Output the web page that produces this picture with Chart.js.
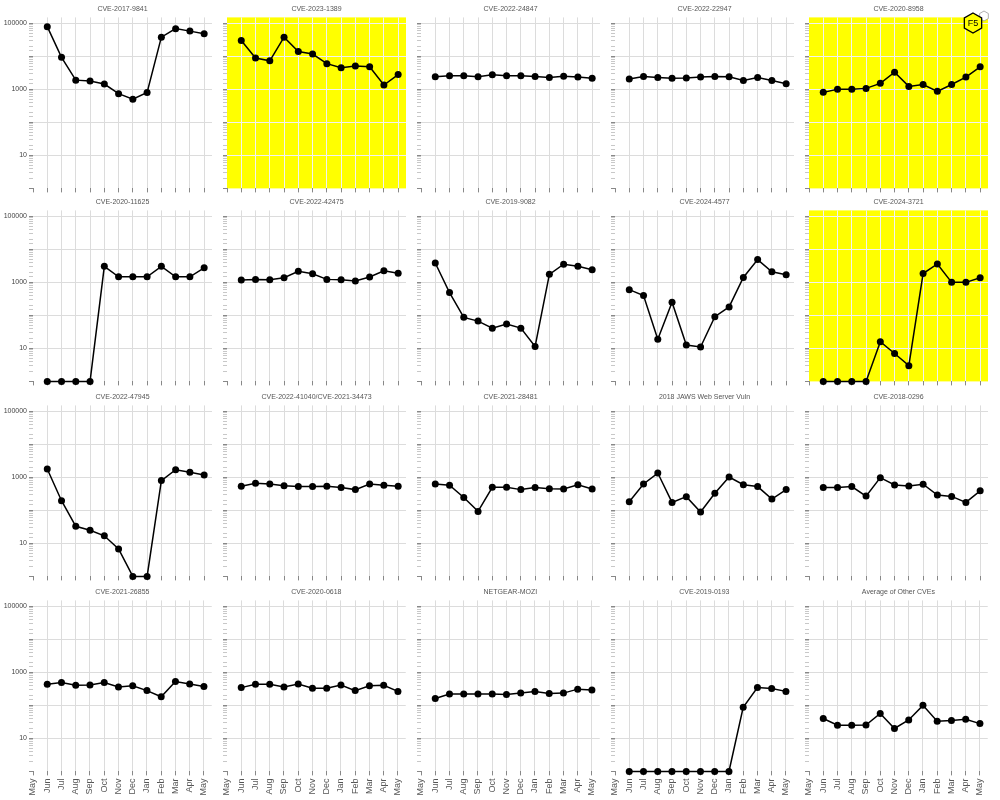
<!DOCTYPE html>
<html>
<head>
<meta charset="utf-8">
<script src="https://cdn.jsdelivr.net/npm/chart.js@4"></script>
<style>
  html, body { margin: 0; padding: 0; background: #fff; }
  #wrap { position: relative; width: 1000px; height: 800px; overflow: hidden; }
  #wrap canvas { position: absolute; }
</style>
</head>
<body>
<div id="wrap"></div>
<script>
// month axis, first May is the empty start of the axis
const months = ['May', 'Jun', 'Jul', 'Aug', 'Sep', 'Oct', 'Nov', 'Dec', 'Jan', 'Feb', 'Mar', 'Apr', 'May']
const yLabels = [10, 1000, 100000]

// monthly values Jun..May, one array per panel (0 shown as 1 on the log axis)
const cve_2017_9841 = [79000, 9300, 1900, 1800, 1450, 740, 500, 800, 38000, 69000, 58000, 48000]
const cve_2023_1389 = [30000, 8900, 7300, 38000, 14000, 11700, 6000, 4500, 5100, 4800, 1350, 2800]
const cve_2022_24847 = [2400, 2600, 2600, 2400, 2750, 2600, 2600, 2450, 2300, 2500, 2350, 2150]
const cve_2022_22947 = [2050, 2450, 2300, 2150, 2200, 2350, 2450, 2400, 1850, 2300, 1850, 1480]
const cve_2020_8958 = [810, 1000, 1000, 1070, 1520, 3300, 1230, 1400, 870, 1400, 2350, 4800]
const cve_2020_11625 = [1, 1, 1, 1, 3050, 1470, 1470, 1470, 3050, 1470, 1470, 2750]
const cve_2022_42475 = [1170, 1230, 1200, 1380, 2150, 1820, 1230, 1200, 1100, 1450, 2250, 1900]
const cve_2019_9082 = [3850, 490, 87, 67, 41, 55, 41, 11.5, 1750, 3550, 3050, 2400]
const cve_2024_4577 = [600, 400, 19, 250, 12.6, 11, 91, 180, 1400, 4900, 2100, 1700]
const cve_2024_3721 = [1, 1, 1, 1, 16, 7, 3, 1850, 3600, 1000, 1000, 1380]
const cve_2022_47945 = [1790, 196, 33, 25, 17, 6.8, 1, 1, 800, 1700, 1420, 1180]
const cve_2022_41040 = [540, 660, 630, 560, 525, 525, 540, 490, 425, 630, 575, 540]
const cve_2021_28481 = [630, 575, 245, 93, 500, 500, 425, 490, 455, 445, 600, 445]
const jaws_2018 = [182, 630, 1350, 174, 260, 89, 330, 1020, 600, 525, 220, 425]
const cve_2018_0296 = [490, 490, 525, 270, 980, 590, 550, 620, 290, 265, 174, 390]
const cve_2021_26855 = [435, 490, 405, 415, 490, 360, 390, 280, 182, 525, 445, 370]
const cve_2020_0618 = [345, 435, 435, 360, 445, 330, 330, 415, 280, 390, 405, 265]
const netgear_mozi = [162, 220, 220, 220, 220, 215, 235, 265, 230, 235, 310, 290]
const cve_2019_0193 = [1, 1, 1, 1, 1, 1, 1, 1, 87, 345, 325, 265]
const avg_other = [40, 25, 25, 25.5, 57, 20, 36, 100, 33, 35, 38, 28]

const titles = [
    'CVE-2017-9841', 'CVE-2023-1389', 'CVE-2022-24847', 'CVE-2022-22947', 'CVE-2020-8958',
    'CVE-2020-11625', 'CVE-2022-42475', 'CVE-2019-9082', 'CVE-2024-4577', 'CVE-2024-3721',
    'CVE-2022-47945', 'CVE-2022-41040/CVE-2021-34473', 'CVE-2021-28481', '2018 JAWS Web Server Vuln', 'CVE-2018-0296',
    'CVE-2021-26855', 'CVE-2020-0618', 'NETGEAR-MOZI', 'CVE-2019-0193', 'Average of Other CVEs'
]
const series = [
    cve_2017_9841, cve_2023_1389, cve_2022_24847, cve_2022_22947, cve_2020_8958,
    cve_2020_11625, cve_2022_42475, cve_2019_9082, cve_2024_4577, cve_2024_3721,
    cve_2022_47945, cve_2022_41040, cve_2021_28481, jaws_2018, cve_2018_0296,
    cve_2021_26855, cve_2020_0618, netgear_mozi, cve_2019_0193, avg_other
]
const highlighted = ['CVE-2023-1389', 'CVE-2020-8958', 'CVE-2024-3721']

Chart.defaults.font.family = '"Liberation Sans", Arial, sans-serif'
Chart.defaults.font.size = 7

const rowTops = [0, 193, 388, 583]
const colStep = 194
const axisW = 33
const plotW = 179
const plotH = 171
const titleH = 17.4

const isDecade = v => v > 0 && Math.abs(Math.log10(v) - Math.round(Math.log10(v))) < 1e-9

const panelBg = {
    id: 'panelBg',
    beforeDraw(chart, args, opts) {
        if (!opts.color) return
        const a = chart.chartArea
        const ctx = chart.ctx
        ctx.save()
        ctx.fillStyle = opts.color
        ctx.fillRect(a.left, a.top, a.right - a.left, a.bottom - a.top)
        ctx.restore()
    }
}

function hexagon(ctx, cx, cy, r) {
    ctx.beginPath()
    for (let k = 0; k < 6; k++) {
        const ang = Math.PI / 3 * k - Math.PI / 2
        const px = cx + r * Math.cos(ang), py = cy + r * Math.sin(ang)
        if (k === 0) ctx.moveTo(px, py)
        else ctx.lineTo(px, py)
    }
    ctx.closePath()
}

// small F5 mark in the top right panel
const f5Logo = {
    id: 'f5Logo',
    afterDraw(chart, args, opts) {
        if (!opts.show) return
        const ctx = chart.ctx
        const cx = chart.chartArea.right - 15, cy = 23
        ctx.save()
        hexagon(ctx, cx + 11, cy - 7, 5)
        ctx.fillStyle = '#fff'
        ctx.fill()
        ctx.strokeStyle = '#999'
        ctx.lineWidth = 0.8
        ctx.stroke()
        hexagon(ctx, cx, cy, 10)
        ctx.fillStyle = '#ffff00'
        ctx.fill()
        ctx.strokeStyle = '#000'
        ctx.lineWidth = 1.3
        ctx.stroke()
        ctx.fillStyle = '#000'
        ctx.font = '9px "Liberation Sans", Arial, sans-serif'
        ctx.textAlign = 'center'
        ctx.textBaseline = 'middle'
        ctx.fillText('F5', cx, cy + 0.5)
        ctx.restore()
    }
}

const wrap = document.getElementById('wrap')

series.forEach((values, idx) => {
    const row = Math.floor(idx / 5)
    const col = idx % 5
    const lastRow = row === 3
    const yellow = highlighted.includes(titles[idx])
    const gridCol = yellow ? '#f2f2f2' : '#dcdcdc'
    const top = rowTops[row]
    const h = lastRow ? 800 - top : Math.round(titleH + plotH + 8)
    const xH = h - titleH - plotH
    const w = axisW + plotW + 6

    const canvas = document.createElement('canvas')
    canvas.width = w
    canvas.height = h
    canvas.style.left = (col * colStep) + 'px'
    canvas.style.top = top + 'px'
    wrap.appendChild(canvas)

    new Chart(canvas, {
        type: 'line',
        data: {
            datasets: [{
                data: values.map((v, i) => ({ x: i + 1, y: v })),
                borderColor: '#000',
                borderWidth: 1.5,
                pointRadius: 3.5,
                pointBackgroundColor: '#000',
                pointBorderWidth: 0,
                tension: 0,
                clip: false
            }]
        },
        options: {
            responsive: false,
            animation: false,
            events: [],
            layout: { padding: { top: 0, left: 0, right: 6, bottom: 0 } },
            plugins: {
                legend: { display: false },
                tooltip: { enabled: false },
                title: {
                    display: true,
                    text: titles[idx],
                    color: '#555',
                    fullSize: false,
                    font: { size: 7, weight: 'normal' },
                    padding: { top: 5, bottom: 4 }
                },
                panelBg: { color: yellow ? '#ffff00' : null },
                f5Logo: { show: idx === 4 }
            },
            scales: {
                x: {
                    type: 'linear',
                    min: 0,
                    max: 12.55,
                    afterBuildTicks: s => { s.ticks = months.map((m, i) => ({ value: i })) },
                    afterFit: s => { s.height = xH },
                    border: { display: false },
                    grid: {
                        color: c => (c.tick && c.tick.value === 0) ? 'rgba(0,0,0,0)' : gridCol,
                        tickColor: '#888',
                        tickLength: 4,
                        lineWidth: 1
                    },
                    ticks: {
                        display: lastRow,
                        autoSkip: false,
                        minRotation: 90,
                        maxRotation: 90,
                        padding: 3,
                        color: '#555',
                        font: { size: 9 },
                        callback: v => months[v]
                    }
                },
                y: {
                    type: 'logarithmic',
                    min: 1,
                    max: 151000,
                    afterBuildTicks: s => { s.ticks = s.ticks.filter(t => t.value <= 100000) },
                    afterFit: s => { s.width = axisW },
                    border: { display: false },
                    grid: {
                        color: c => (c.tick && isDecade(c.tick.value) && c.tick.value > 1) ? gridCol : 'rgba(0,0,0,0)',
                        tickColor: c => (c.tick && isDecade(c.tick.value)) ? '#888' : '#c8c8c8',
                        tickLength: 4,
                        lineWidth: 1
                    },
                    ticks: {
                        display: col === 0,
                        padding: 2,
                        color: '#444',
                        font: { size: 7 },
                        autoSkip: false,
                        callback: v => yLabels.includes(v) ? String(v) : ''
                    }
                }
            }
        },
        plugins: [panelBg, f5Logo]
    })
})
</script>
</body>
</html>
